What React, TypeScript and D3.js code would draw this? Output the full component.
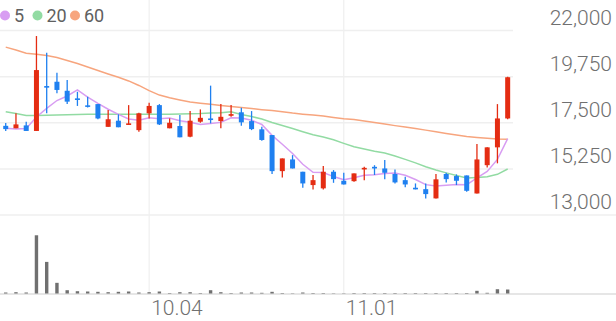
import React from "react";
import * as d3 from "d3";

// Trading days shown (2023), one per candle
const dates: string[] = [
  "09.08","09.11","09.12","09.13","09.14","09.15","09.18","09.19","09.20","09.21","09.22","09.25","09.26","09.27",
  "10.04","10.05","10.06","10.10","10.11","10.12","10.13","10.16","10.17","10.18","10.19","10.20","10.23","10.24","10.25","10.26","10.27","10.30","10.31",
  "11.01","11.02","11.03","11.06","11.07","11.08","11.09","11.10","11.13","11.14","11.15","11.16","11.17","11.20","11.21","11.22","11.23",
];

const opens: number[] = [
  17350,17230,17370,17100,19290,19500,19060,18690,18350,18410,
  17300,17600,17400,17140,17960,18360,17230,17340,16820,17550,
  17710,17580,17840,18010,17580,17180,16900,15140,15710,15110,
  14460,14300,15110,14670,14650,15230,15350,15270,15000,14700,
  14330,14260,13810,15000,14900,14930,14050,15430,16300,17710,
];
const highs: number[] = [
  17490,17960,17550,21730,20920,19940,19580,19010,18770,18410,
  18120,17910,18360,17990,18480,18410,17710,17880,18070,18150,
  19310,18410,18360,18230,18070,17300,16900,15760,15920,15110,
  14950,15390,15190,15060,15030,15350,15430,15680,15220,14860,
  14540,14540,15000,15060,14980,14930,16460,16300,18410,19750,
];
const lows: number[] = [
  17100,17230,17100,17100,17960,18940,18410,18320,18250,17670,
  17300,17280,17400,17060,17710,17390,17230,16790,16790,17500,
  17470,17230,17790,17350,17140,16620,15000,14830,15270,14330,
  14250,14250,14570,14490,14620,14700,14950,14740,14540,14350,
  14250,13810,13810,14590,14460,14130,14050,15320,15520,17670,
];
const closes: number[] = [
  17190,17420,17100,20070,19230,19100,18530,18610,18280,17710,
  17670,17280,17470,17960,18320,17420,17500,16790,17600,17740,
  17670,17790,17920,17520,17190,16660,15140,15760,15270,14540,
  14700,15110,14750,14490,15030,15300,15270,15060,14590,14490,
  14250,14020,14740,14750,14670,14180,15710,16300,17710,19720,
];
// volume, thousand shares
const volumes: number[] = [
  100,130,100,5840,3170,1070,330,230,200,170,
  130,170,200,100,130,200,50,130,130,50,
  330,130,50,100,100,70,170,50,30,100,
  50,50,30,30,50,50,50,50,50,50,
  50,50,50,50,50,50,270,70,430,400,
];
// moving-average values whose window reaches before the first visible day
const ma5Head: number[] = [17230, 17190, 17220, 17780];
const ma20Head: number[] = [
  18040,17950,17850,17850,17870,17880,17890,17900,17910,17910,
  17910,17910,17910,17910,17910,17920,17920,17930,17940,
];
const ma60: number[] = [
  21190,21050,20890,20840,20780,20680,20540,20390,20220,20050,
  19880,19720,19540,19320,19070,18850,18720,18610,18510,18450,
  18400,18340,18290,18240,18190,18140,18100,18040,17970,17920,
  17880,17830,17760,17700,17660,17580,17510,17440,17360,17290,
  17220,17140,17060,16980,16900,16830,16780,16740,16710,16700,
];
const priceTicks: number[] = [22000, 19750, 17500, 15250, 13000];
const dateTicks: string[] = ["10.04", "11.01"];
const legendItems: { label: string; color: string }[] = [
  { label: "5", color: "#d89df2" },
  { label: "20", color: "#92dba3" },
  { label: "60", color: "#f7a57e" },
];

const UP = "#e42c12";
const DOWN = "#1f80f0";

function movingAverage(head: number[], n: number): number[] {
  return closes.map((_, i) => {
    if (i < head.length) return head[i];
    return d3.mean(closes.slice(i - n + 1, i + 1)) as number;
  });
}

export default function App() {
  const W = 616;
  const H = 321;
  const x = d3.scaleBand<string>().domain(dates).range([0.6, 512.8]).padding(0);
  const cx = (i: number) => (x(dates[i]) as number) + x.bandwidth() / 2;
  const y = d3.scaleLinear().domain([13000, 22000]).range([215, 30.5]);
  const vy = d3.scaleLinear().domain([0, 6570]).range([293.5, 228]);

  const ma5 = movingAverage(ma5Head, 5);
  const ma20 = movingAverage(ma20Head, 20);

  const line = d3
    .line<number>()
    .x((_, i) => cx(i))
    .y((v) => y(v));

  const fmt = d3.format(",");
  const bodyW = 5;

  return (
    <svg
      width={W}
      height={H}
      style={{ position: "absolute", left: 0, top: 0, background: "#fff" }}
      fontFamily="Roboto, 'Noto Sans', sans-serif"
    >
      {/* horizontal grid */}
      {priceTicks.map((t) => (
        <line
          key={"g" + t}
          x1={0}
          x2={t === 13000 ? W : 513}
          y1={y(t)}
          y2={y(t)}
          stroke="#efefef"
          strokeWidth={1.5}
        />
      ))}
      {/* vertical grid */}
      {dateTicks.map((d) => {
        const i = dates.indexOf(d);
        return (
          <line key={"v" + d} x1={cx(i)} x2={cx(i)} y1={0} y2={293} stroke="#efefef" strokeWidth={1.2} />
        );
      })}
      {/* volume baseline */}
      <line x1={0} x2={W} y1={294} y2={294} stroke="#e6e6e6" strokeWidth={2} />

      {/* price labels */}
      {priceTicks.map((t) => (
        <text
          key={"t" + t}
          x={612}
          y={y(t) - 6}
          textAnchor="end"
          fontSize={21}
          fontWeight={300}
          fill="#707070"
        >
          {fmt(t)}
        </text>
      ))}
      {/* date labels */}
      {dateTicks.map((d) => {
        const i = dates.indexOf(d);
        return (
          <text key={"d" + d} x={cx(i) + 2} y={315} fontSize={21} fontWeight={300} fill="#707070">
            {d}
          </text>
        );
      })}

      {/* volume bars */}
      {volumes.map((v, i) => (
        <rect
          key={"vol" + i}
          x={cx(i) - 1.7}
          width={3.4}
          y={vy(v)}
          height={vy(0) - vy(v)}
          fill="#707070"
        />
      ))}

      {/* moving averages */}
      <path d={line(ma60) || ""} fill="none" stroke="#f7a57e" strokeWidth={1.5} />
      <path d={line(ma20) || ""} fill="none" stroke="#92dba3" strokeWidth={1.5} />
      <path d={line(ma5) || ""} fill="none" stroke="#d89df2" strokeWidth={1.5} />

      {/* candles */}
      {closes.map((c, i) => {
        const o = opens[i];
        const color = c >= o ? UP : DOWN;
        const top = y(Math.max(o, c));
        const bot = y(Math.min(o, c));
        return (
          <g key={"c" + i}>
            <line x1={cx(i)} x2={cx(i)} y1={y(highs[i])} y2={y(lows[i])} stroke={color} strokeWidth={1.3} />
            <rect x={cx(i) - bodyW / 2} width={bodyW} y={top} height={Math.max(1.6, bot - top)} fill={color} />
          </g>
        );
      })}

      {/* legend */}
      {legendItems.map((it, k) => {
        const lx = [5, 37.5, 75][k];
        return (
          <g key={"l" + it.label}>
            <circle cx={lx} cy={15.5} r={5} fill={it.color} />
            <text x={lx + 9} y={21.5} fontSize={18} fill="#606060" fontWeight={400}>
              {it.label}
            </text>
          </g>
        );
      })}
    </svg>
  );
}
